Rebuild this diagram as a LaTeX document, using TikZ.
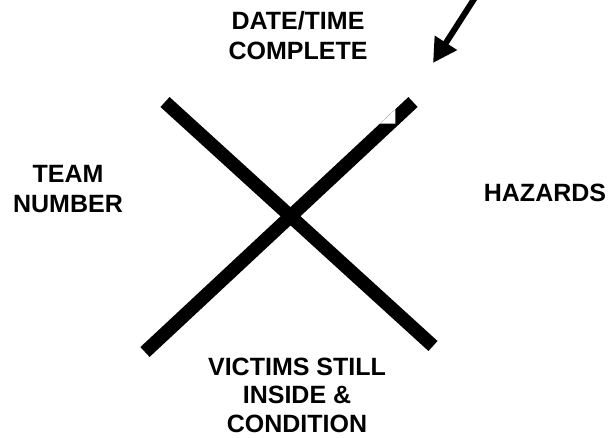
\documentclass[tikz,border=0pt]{standalone}
\usepackage{fontspec}
\setmainfont{Liberation Sans}
\usetikzlibrary{arrows.meta}
\begin{document}
\begin{tikzpicture}[x=1pt,y=-1pt,
  lbl/.style={inner sep=0pt,align=center,font=\bfseries\fontsize{25}{29.5}\selectfont},
  lbl3/.style={lbl,font=\bfseries\fontsize{25}{28.5}\selectfont},
  xbar/.style={line width=13.5pt,line cap=butt},
  pointer/.style={line width=6pt,-{Triangle[length=24pt,width=25pt]}}]
\useasboundingbox (0,0) rectangle (613,437);
% labels
\node[lbl] (date) at (298,35.5) {DATE/TIME\\COMPLETE};
\node[lbl] (team) at (68,189) {TEAM\\NUMBER};
\node[lbl] (haz) at (545,192.5) {HAZARDS};
\node[lbl3] (vict) at (297,395) {VICTIMS STILL\\INSIDE \&\\CONDITION};
% X
\coordinate (a1) at (165,102);
\coordinate (a2) at (433,346);
\coordinate (b1) at (145,352);
\coordinate (b2) at (413,102);
\draw[xbar] (a1) -- (a2);
\draw[xbar] (b1) -- (b2);
% notch
\fill[white] (380,123.6) -- (395.3,123.6) -- (395.3,109.4) -- cycle;
% arrow
\coordinate (p0) at (476,-4);
\coordinate (p1) at (433,63);
\draw[pointer] (p0) -- (p1);
\end{tikzpicture}
\end{document}
